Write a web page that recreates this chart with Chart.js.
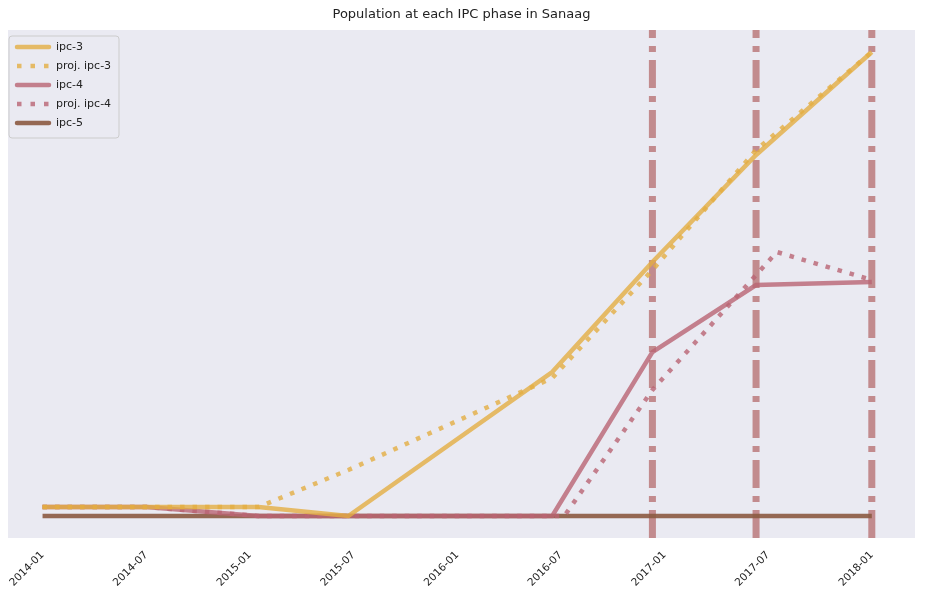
<!DOCTYPE html>
<html><head><meta charset="utf-8">
<script src="https://cdn.jsdelivr.net/npm/chart.js@4"></script>
<style>body{margin:0;background:#fff}#w{width:932px;height:606px}</style>
</head><body><div id="w"><canvas id="c"></canvas></div>
<script>
const tickLabels = ['2014-01','2014-07','2015-01','2015-07','2016-01','2016-07','2017-01','2017-07','2018-01'];
const ipc3Months = [0, 6, 12.5, 17.7, 29.5, 35.3, 41.3, 48];
const ipc3Values = [1800, 1800, 1800, 0, 28800, 50800, 72200, 92800];
const projIpc3Months = [0, 6, 12.5, 17.7, 29.5, 35.3, 41.3, 48];
const projIpc3Values = [1800, 1800, 1800, 9200, 27600, 49200, 73200, 92800];
const ipc4Months = [0, 6, 12.5, 17.7, 29.5, 35.3, 41.3, 48];
const ipc4Values = [1800, 1800, 0, 0, 0, 32800, 46200, 46800];
const projIpc4Months = [0, 6, 12.5, 17.7, 30.2, 35.3, 42.5, 48];
const projIpc4Values = [1800, 1800, 0, 0, 0, 25200, 52800, 47200];
const ipc5Months = [0, 6, 12.5, 17.7, 29.5, 35.3, 41.3, 48];
const ipc5Values = [0, 0, 0, 0, 0, 0, 0, 0];
const eventMonths = [35.3, 41.3, 48];
const yMin = -4400, yMax = 97200;

const pts = (xs, ys) => xs.map((x, i) => ({x, y: ys[i]}));
const C3 = 'rgba(228,174,66,0.8)', C4 = 'rgba(185,100,115,0.8)', C5 = 'rgba(140,90,65,0.9)';
const datasets = [
 {label:'ipc-3', data:pts(ipc3Months, ipc3Values), borderColor:C3, borderWidth:4.5},
 {label:'proj. ipc-3', data:pts(projIpc3Months, projIpc3Values), borderColor:C3, borderWidth:4.5, borderDash:[4.5,8]},
 {label:'ipc-4', data:pts(ipc4Months, ipc4Values), borderColor:C4, borderWidth:4.5},
 {label:'proj. ipc-4', data:pts(projIpc4Months, projIpc4Values), borderColor:C4, borderWidth:4.5, borderDash:[4.5,8]},
 {label:'ipc-5', data:pts(ipc5Months, ipc5Values), borderColor:C5, borderWidth:4.5},
];
eventMonths.forEach(m => datasets.push({label:'', data:[{x:m,y:yMin},{x:m,y:yMax}],
  borderColor:'rgba(160,60,60,0.55)', borderWidth:7, borderDash:[28,8,6,8], isEvent:true}));
datasets.forEach(d => { d.pointRadius = 0; d.fill = false; d.tension = 0; });

const bgPlugin = {id:'bg', beforeDraw(ch){const a=ch.chartArea,x=ch.ctx;x.save();x.fillStyle='#eaeaf2';x.fillRect(a.left,a.top,a.right-a.left,a.bottom-a.top);
  x.fillStyle='#222';x.font='13px "DejaVu Sans", sans-serif';x.textAlign='center';x.textBaseline='middle';x.fillText('Population at each IPC phase in Sanaag',(a.left+a.right)/2,15);x.restore();},
 afterDraw(ch){const a=ch.chartArea,x=ch.ctx;x.save();
  const items=ch.data.datasets.filter(d=>!d.isEvent);
  const bx=a.left+1,by=a.top+6,bw=110,bh=items.length*19+7;
  x.fillStyle='rgba(234,234,242,0.85)';x.strokeStyle='#ccc';x.lineWidth=1;
  x.beginPath();x.roundRect(bx,by,bw,bh,3);x.fill();x.stroke();
  x.font='11px "DejaVu Sans", sans-serif';x.textBaseline='middle';x.fillStyle='#222';
  items.forEach((d,i)=>{const y=by+11+i*19;x.strokeStyle=d.borderColor;x.lineWidth=4.5;x.lineCap='round';
    if(d.borderDash){x.lineCap='butt';x.setLineDash([4.5,9]);}
    x.beginPath();x.moveTo(bx+8,y);x.lineTo(bx+40,y);x.stroke();x.setLineDash([]);
    x.fillText(d.label,bx+47,y);});
  x.restore();}};

new Chart(document.getElementById('c'),{type:'line',data:{datasets},
 options:{responsive:true,maintainAspectRatio:false,animation:false,
  layout:{padding:{top:30,left:8,right:17,bottom:0}},
  plugins:{legend:{display:false},title:{display:false},tooltip:{enabled:false}},
  scales:{
   x:{type:'linear',min:-2,max:50.5,grid:{display:false},border:{display:false},
      afterBuildTicks(s){s.ticks=tickLabels.map((t,i)=>({value:i*6}));},
      afterFit(s){s.height=68;},
      ticks:{autoSkip:false,maxRotation:45,minRotation:45,color:'#222',font:{size:10.5,family:'DejaVu Sans'},
        callback:(v)=>tickLabels[v/6]}},
   y:{min:yMin,max:yMax,display:false}}},
 plugins:[bgPlugin]});
</script></body></html>
